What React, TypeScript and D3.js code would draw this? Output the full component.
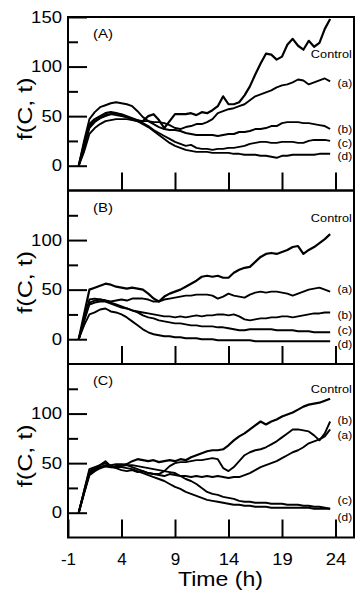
import React, { useEffect, useRef } from 'react';
import * as d3 from 'd3';

// time grid (h)
const hours = [0, 0.5, 1, 1.5, 2, 2.5, 3, 3.5, 4, 4.5, 5, 5.5, 6, 6.5, 7, 7.5, 8, 8.5, 9, 9.5, 10, 10.5, 11, 11.5,
  12, 12.5, 13, 13.5, 14, 14.5, 15, 15.5, 16, 16.5, 17, 17.5, 18, 18.5, 19, 19.5, 20, 20.5, 21, 21.5, 22, 22.5, 23, 23.5];

// panel (A)
const panelAControl = [0, 22, 42, 47, 50, 53, 54, 53, 51, 49, 47, 45, 45, 50, 52, 46, 38, 45, 52, 52, 52, 53, 51, 54,
  53, 56, 60, 70, 62, 62, 64, 71, 80, 92, 103, 113, 112, 107, 110, 122, 128, 121, 117, 126, 120, 124, 138, 148];
const panelAa = [0, 20, 40, 45, 48, 51, 52, 51, 50, 49, 47, 46, 45, 45, 44, 44, 43, 41, 38, 37, 39, 40, 42, 42,
  44, 47, 53, 55, 57, 58, 60, 62, 66, 70, 72, 74, 76, 79, 81, 82, 84, 87, 86, 82, 84, 86, 88, 85];
const panelAb = [0, 25, 47, 54, 59, 61, 63, 64, 63, 62, 60, 55, 49, 45, 42, 39, 37, 36, 36, 35, 33, 32, 31, 31,
  31, 31, 30, 31, 32, 32, 34, 34, 35, 37, 37, 38, 40, 40, 43, 44, 44, 44, 43, 43, 42, 41, 40, 37];
const panelAc = [0, 18, 38, 44, 48, 50, 52, 53, 52, 50, 48, 46, 43, 40, 36, 33, 30, 27, 24, 22, 20, 21, 18, 17,
  17, 16, 17, 17, 18, 18, 19, 20, 22, 23, 24, 24, 23, 23, 24, 24, 24, 23, 23, 25, 26, 26, 26, 25];
const panelAd = [0, 14, 32, 38, 42, 45, 46, 47, 47, 47, 46, 45, 42, 39, 35, 31, 27, 23, 20, 18, 16, 15, 14, 14,
  14, 13, 13, 13, 13, 12, 12, 11, 11, 11, 10, 10, 9, 8, 10, 10, 11, 11, 11, 11, 11, 12, 12, 12];

// panel (B)
const panelBControl = [0, 25, 50, 52, 54, 56, 55, 53, 52, 51, 52, 51, 50, 46, 41, 38, 43, 46, 48, 50, 53, 56, 59, 63,
  64, 63, 64, 62, 62, 67, 70, 72, 73, 78, 83, 86, 87, 86, 88, 90, 93, 94, 86, 90, 93, 97, 101, 106];
const panelBa = [0, 20, 40, 41, 40, 39, 38, 39, 40, 39, 41, 41, 41, 40, 38, 38, 40, 41, 42, 43, 44, 44, 45, 45,
  45, 44, 41, 43, 46, 44, 43, 42, 45, 47, 48, 47, 48, 48, 47, 46, 44, 46, 48, 50, 51, 52, 50, 48];
const panelBb = [0, 18, 35, 37, 38, 38, 36, 34, 32, 31, 29, 28, 27, 26, 25, 24, 23, 23, 22, 23, 22, 23, 24, 23,
  24, 24, 25, 25, 24, 25, 23, 20, 19, 20, 21, 21, 22, 22, 23, 23, 22, 23, 24, 25, 26, 26, 27, 27];
const panelBc = [0, 20, 37, 39, 40, 39, 37, 35, 33, 31, 29, 27, 24, 22, 21, 19, 18, 17, 16, 16, 15, 14, 14, 13,
  13, 13, 12, 12, 11, 10, 9, 9, 10, 10, 10, 10, 10, 9, 9, 9, 9, 8, 8, 8, 7, 7, 7, 7];
const panelBd = [0, 14, 25, 27, 30, 31, 28, 27, 25, 22, 18, 14, 10, 7, 5, 4, 3, 3, 2, 2, 1, 1, 1, 0,
  0, 0, -1, -1, -1, -1, -1, -1, -1, -2, -2, -2, -2, -2, -2, -2, -2, -2, -2, -2, -2, -2, -2, -2];

// panel (C)
const panelCControl = [0, 20, 38, 42, 45, 47, 46, 47, 48, 49, 52, 54, 53, 52, 53, 51, 52, 53, 52, 54, 53, 56, 58, 60,
  62, 63, 63, 64, 68, 73, 77, 80, 84, 88, 92, 89, 92, 94, 97, 99, 101, 104, 107, 109, 110, 111, 113, 115];
const panelCa = [0, 20, 40, 44, 46, 47, 46, 45, 43, 42, 43, 41, 42, 40, 39, 38, 37, 39, 38, 37, 37, 36, 37, 36,
  37, 36, 37, 36, 35, 36, 36, 38, 40, 43, 46, 48, 50, 52, 55, 58, 61, 63, 66, 70, 72, 74, 77, 84];
const panelCb = [0, 22, 42, 45, 48, 50, 47, 46, 47, 48, 46, 44, 42, 40, 39, 39, 42, 47, 50, 51, 51, 52, 53, 53,
  54, 55, 54, 45, 42, 46, 52, 58, 61, 63, 64, 66, 69, 72, 76, 80, 84, 84, 83, 82, 78, 73, 80, 92];
const panelCc = [0, 20, 40, 44, 46, 48, 48, 49, 49, 48, 48, 47, 46, 45, 44, 43, 42, 41, 40, 37, 34, 32, 29, 25,
  21, 19, 18, 16, 15, 14, 12, 11, 11, 10, 10, 10, 9, 9, 9, 8, 8, 8, 7, 7, 6, 6, 5, 4];
const panelCd = [0, 22, 44, 46, 48, 52, 47, 46, 46, 45, 44, 42, 40, 38, 36, 34, 32, 29, 26, 24, 21, 19, 17, 15,
  13, 12, 11, 10, 9, 8, 8, 7, 7, 6, 6, 6, 5, 5, 5, 5, 5, 5, 5, 5, 4, 4, 4, 4];

const seriesNames = ['Control', '(a)', '(b)', '(c)', '(d)'];
const panelNames = ['(A)', '(B)', '(C)'];
// where the series names sit, in f(C, t) units
const panelALabelValues = [113, 84, 37, 23, 10];
const panelBLabelValues = [122, 50.5, 24.7, 9, -4.5];
const panelCLabelValues = [125, 79, 94, 13, -4.5];

const yMajor = [0, 50, 100, 150];
const yMinor = [25, 75, 125];
const xTicks = [-1, 4, 9, 14, 19, 24];

const panels = [
  { name: panelNames[0], series: [panelAControl, panelAa, panelAb, panelAc, panelAd], labels: panelALabelValues },
  { name: panelNames[1], series: [panelBControl, panelBa, panelBb, panelBc, panelBd], labels: panelBLabelValues },
  { name: panelNames[2], series: [panelCControl, panelCa, panelCb, panelCc, panelCd], labels: panelCLabelValues },
];

const FONT = '"Liberation Sans", Arial, sans-serif';

const App = () => {
  const svgRef = useRef<SVGSVGElement>(null);

  useEffect(() => {
    const svg = d3.select(svgRef.current);
    svg.selectAll('*').remove();

    const left = 68;
    const right = 354;
    const firstTop = 17;
    const panelH = 173.5;

    const x = d3.scaleLinear().domain([-1, 24]).range([left, 335.5]);

    panels.forEach((p, i) => {
      const top = firstTop + i * panelH;
      const bottom = top + panelH;
      const y = d3.scaleLinear().domain([-25, 150]).range([bottom, top]);
      const g = svg.append('g');

      // curves
      const line = d3.line<number>()
        .x((_, k) => x(hours[k]))
        .y(d => y(d));

      p.series.forEach((vals, s) => {
        g.append('path')
          .datum(vals)
          .attr('fill', 'none')
          .attr('stroke', '#000')
          .attr('stroke-width', s === 0 ? 2.2 : 1.9)
          .attr('stroke-linejoin', 'round')
          .attr('d', line);
      });

      // frame
      g.append('rect')
        .attr('x', left)
        .attr('y', top)
        .attr('width', right - left)
        .attr('height', panelH)
        .attr('fill', 'none')
        .attr('stroke', '#000')
        .attr('stroke-width', 2);

      // y major ticks (inside) + labels
      const yAx = g.append('g')
        .attr('transform', `translate(${left},0)`)
        .call(d3.axisLeft(y)
          .tickValues(i === 0 ? yMajor : yMajor.slice(0, 3))
          .tickSize(-19)
          .tickPadding(6));
      yAx.select('.domain').remove();
      yAx.selectAll('line').attr('stroke-width', 2);
      yAx.selectAll('text')
        .attr('font-family', FONT)
        .attr('font-size', 16)
        .attr('fill', '#000')
        .attr('textLength', d => String(d).length * 10.3)
        .attr('lengthAdjust', 'spacingAndGlyphs');

      // y minor ticks
      const yMin = g.append('g')
        .attr('transform', `translate(${left},0)`)
        .call(d3.axisLeft(y).tickValues(yMinor).tickSize(-10).tickFormat(() => ''));
      yMin.select('.domain').remove();
      yMin.selectAll('line').attr('stroke-width', 2);

      // x ticks (inside, from bottom)
      const last = i === panels.length - 1;
      const xAx = g.append('g')
        .attr('transform', `translate(0,${bottom})`)
        .call(d3.axisBottom(x)
          .tickValues(last ? xTicks : xTicks.slice(1))
          .tickSize(-18)
          .tickPadding(15)
          .tickFormat(d => (last ? String(d) : '')));
      xAx.select('.domain').remove();
      xAx.selectAll('line').attr('stroke-width', 2);
      xAx.selectAll('text')
        .attr('font-family', FONT)
        .attr('font-size', 17)
        .attr('fill', '#000');
      xAx.selectAll('text')
        .filter(d => (d as number) >= 10)
        .attr('textLength', 20.5)
        .attr('lengthAdjust', 'spacingAndGlyphs');

      // panel letter
      g.append('text')
        .attr('x', 93)
        .attr('y', top + 21)
        .attr('font-family', FONT)
        .attr('font-size', 13)
        .attr('textLength', 20)
        .attr('lengthAdjust', 'spacingAndGlyphs')
        .text(p.name);

      // series names
      seriesNames.forEach((nm, s) => {
        g.append('text')
          .attr('x', x(s === 0 ? 21.7 : 24.2))
          .attr('y', y(p.labels[s]))
          .attr('dy', '0.36em')
          .attr('font-family', FONT)
          .attr('font-size', 11.5)
          .attr('textLength', s === 0 ? 41 : 14.5)
          .attr('lengthAdjust', 'spacingAndGlyphs')
          .text(nm);
      });

      // y title
      g.append('text')
        .attr('transform', `translate(25,${(top + bottom) / 2 + 5}) rotate(-90)`)
        .attr('text-anchor', 'middle')
        .attr('dy', '0.35em')
        .attr('font-family', FONT)
        .attr('font-size', 20)
        .attr('textLength', 63)
        .attr('lengthAdjust', 'spacingAndGlyphs')
        .text('f(C, t)');
    });

    // x title
    svg.append('text')
      .attr('x', 220.5)
      .attr('y', 586)
      .attr('text-anchor', 'middle')
      .attr('font-family', FONT)
      .attr('font-size', 21)
      .attr('textLength', 85)
      .attr('lengthAdjust', 'spacingAndGlyphs')
      .text('Time (h)');
  }, []);

  return (
    <svg
      ref={svgRef}
      width={357}
      height={592}
      style={{ position: 'absolute', left: 0, top: 0, background: '#fff' }}
    />
  );
};

export default App;
